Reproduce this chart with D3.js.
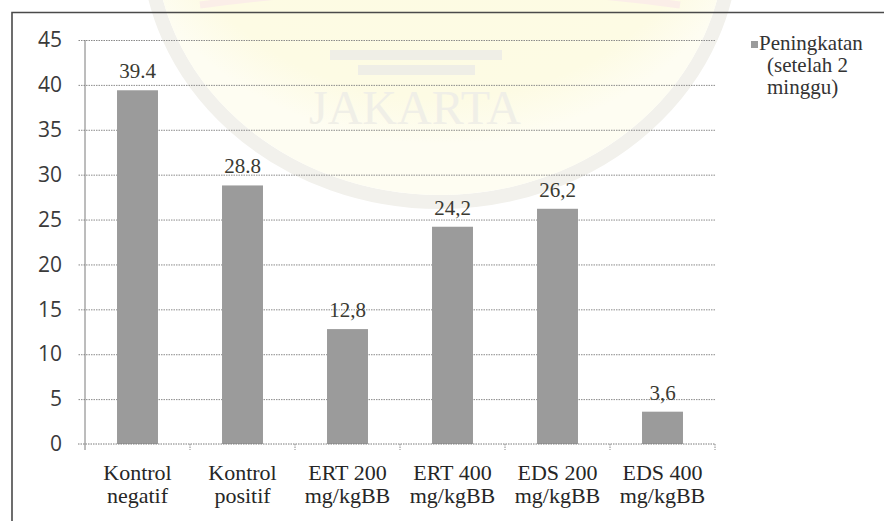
<!DOCTYPE html>
<html>
<head>
<meta charset="utf-8">
<script src="https://cdn.jsdelivr.net/npm/d3@7"></script>
<style>
  svg text.serif, svg text.serif tspan { font-family: "Liberation Serif", "Times New Roman", serif !important; }
  svg text.sans { font-family: "Open Sans", "Liberation Sans", sans-serif !important; }
</style>
</head>
<body style="margin:0">
<svg id="chart" width="884" height="521"></svg>
<script>
// Increase after two weeks, per treatment group
const categories = [
  ["Kontrol", "negatif"],
  ["Kontrol", "positif"],
  ["ERT 200", "mg/kgBB"],
  ["ERT 400", "mg/kgBB"],
  ["EDS 200", "mg/kgBB"],
  ["EDS 400", "mg/kgBB"]
];
const values = [39.4, 28.8, 12.8, 24.2, 26.2, 3.6];
const decimalMarks = [".", ".", ",", ",", ",", ","];
const yTicks = [0, 5, 10, 15, 20, 25, 30, 35, 40, 45];
const legendLines = ["Peningkatan", "(setelah 2", "minggu)"];

const SERIF = '"Liberation Serif"';
const SANS = '"Open Sans"';

// apply a font both as attribute and as an important inline style
function font(sel, family, cls, size) {
  return sel.attr("class", cls)
    .attr("font-family", family.replace(/"/g, ""))
    .attr("font-size", size)
    .style("font-family", family, "important")
    .style("font-size", size + "px");
}

const svg = d3.select("#chart");
const W = 884, H = 521;
const plot = { left: 85, right: 715, top: 40, bottom: 444 };

const defs = svg.append("defs");
const fade = defs.append("radialGradient").attr("id", "sealFill")
  .attr("cx", "50%").attr("cy", "30%").attr("r", "60%");
fade.append("stop").attr("offset", "0%").attr("stop-color", "#fdfbe2");
fade.append("stop").attr("offset", "85%").attr("stop-color", "#fdfbe4");
fade.append("stop").attr("offset", "100%").attr("stop-color", "#fefdf2");

svg.append("rect").attr("width", W).attr("height", H).attr("fill", "#fff");

// faint seal in the background
const seal = svg.append("g");
seal.append("ellipse")
  .attr("cx", 440).attr("cy", -60).attr("rx", 292).attr("ry", 262)
  .attr("fill", "none").attr("stroke", "#f2f1ec").attr("stroke-width", 14);
seal.append("ellipse")
  .attr("cx", 440).attr("cy", -60).attr("rx", 285).attr("ry", 255)
  .attr("fill", "url(#sealFill)");
seal.append("path")
  .attr("d", "M200,5 Q440,-28 680,5")
  .attr("fill", "none").attr("stroke", "#fbeee8").attr("stroke-width", 7);
seal.append("rect").attr("x", 330).attr("y", 50).attr("width", 172).attr("height", 10)
  .attr("fill", "#efeee6");
seal.append("rect").attr("x", 358).attr("y", 65).attr("width", 117).attr("height", 10)
  .attr("fill", "#efeee6");
font(seal.append("text"), SERIF, "serif", 48)
  .attr("x", 415).attr("y", 124).attr("text-anchor", "middle")
  .attr("fill", "#f0efe7")
  .text("JAKARTA");

// outer frame
svg.append("path")
  .attr("d", `M12,${H + 5} L12,12.5 L${W + 5},12.5`)
  .attr("fill", "none").attr("stroke", "#4a4a4a").attr("stroke-width", 1.6);

const x = d3.scaleBand()
  .domain(d3.range(categories.length))
  .range([plot.left, plot.right])
  .paddingInner(0.61)
  .paddingOuter(0.305);

const y = d3.scaleLinear().domain([0, 45]).range([plot.bottom, plot.top]);

// dotted gridlines (extend slightly left of the axis)
const grid = svg.append("g")
  .attr("transform", `translate(${plot.right},0)`)
  .call(d3.axisRight(y).tickValues(yTicks.filter(d => d > 0))
    .tickSize(-(plot.right - plot.left + 7)).tickFormat(""));
grid.select(".domain").remove();
grid.selectAll("text").remove();
grid.selectAll("line").attr("stroke", "#8a8a8a").attr("stroke-width", 1)
  .attr("stroke-dasharray", "1.5,1");

// bars
svg.append("g").selectAll("rect")
  .data(values)
  .join("rect")
  .attr("x", (d, i) => x(i))
  .attr("y", d => y(d))
  .attr("width", x.bandwidth())
  .attr("height", d => y(0) - y(d))
  .attr("fill", "#9b9b9b");

// y axis labels
const yAxis = svg.append("g")
  .attr("transform", `translate(${plot.left},0)`)
  .call(d3.axisLeft(y).tickValues(yTicks).tickSize(0).tickPadding(23));
yAxis.select(".domain").remove();
yAxis.attr("font-family", null).attr("font-size", null);
font(yAxis.selectAll("text"), SANS, "sans", 21).attr("fill", "#3a3a3a");

// y axis line
svg.append("line")
  .attr("x1", plot.left).attr("x2", plot.left)
  .attr("y1", y(45)).attr("y2", y(0) + 6)
  .attr("stroke", "#7a7a7a").attr("stroke-width", 1);

// x axis baseline with category separator ticks
svg.append("line")
  .attr("x1", plot.left - 7).attr("x2", plot.right)
  .attr("y1", y(0)).attr("y2", y(0))
  .attr("stroke", "#7a7a7a").attr("stroke-width", 1).attr("stroke-dasharray", "1.5,1");
const bounds = d3.range(categories.length + 1).map(i => plot.left + i * x.step());
svg.append("g").selectAll("line").data(bounds.slice(1)).join("line")
  .attr("x1", d => d).attr("x2", d => d)
  .attr("y1", y(0)).attr("y2", y(0) + 6)
  .attr("stroke", "#8a8a8a").attr("stroke-dasharray", "1.5,1");

// category labels
const xAxis = svg.append("g")
  .attr("transform", `translate(0,${y(0)})`)
  .call(d3.axisBottom(x).tickSize(0).tickFormat(""));
xAxis.select(".domain").remove();
xAxis.selectAll(".tick text").remove();
xAxis.attr("font-family", null).attr("font-size", null);
xAxis.selectAll(".tick").each(function (i) {
  const t = font(d3.select(this).append("text"), SERIF, "serif", 22)
    .attr("text-anchor", "middle")
    .attr("fill", "#262626");
  categories[i].forEach((line, k) => {
    t.append("tspan").attr("x", 0).attr("y", 36 + k * 23).text(line);
  });
});

// value labels
font(svg.append("g").selectAll("text")
  .data(values)
  .join("text"), SERIF, "serif", 21)
  .attr("x", (d, i) => x(i) + x.bandwidth() / 2)
  .attr("y", d => y(d) - 12)
  .attr("text-anchor", "middle")
  .attr("fill", "#3a3a32")
  .text((d, i) => d.toFixed(1).replace(".", decimalMarks[i]));

// legend
const legend = svg.append("g");
legend.append("rect").attr("x", 751).attr("y", 41).attr("width", 7).attr("height", 7)
  .attr("fill", "#9b9b9b");
font(legend.append("text"), SERIF, "serif", 21)
  .attr("fill", "#333")
  .selectAll("tspan").data(legendLines).join("tspan")
  .attr("x", (d, i) => i === 0 ? 759 : 767)
  .attr("y", (d, i) => 50 + i * 22)
  .text(d => d);
</script>
</body>
</html>
